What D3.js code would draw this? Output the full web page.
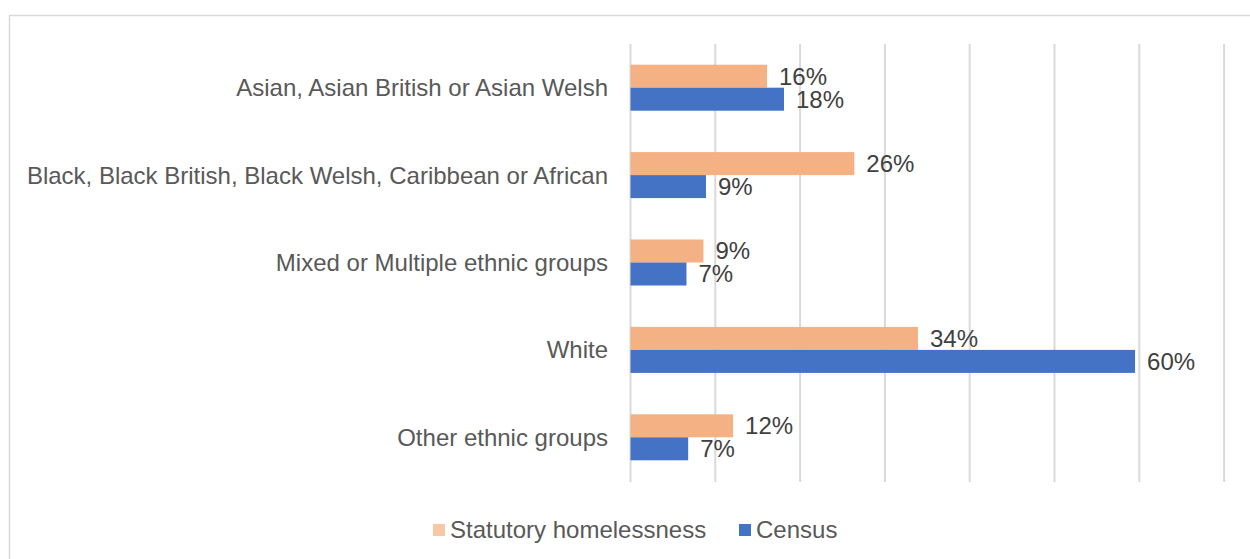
<!DOCTYPE html>
<html><head><meta charset="utf-8">
<script src="https://cdn.jsdelivr.net/npm/d3@7"></script>
<style>body{margin:0;background:#fff}svg{display:block;font-family:"Liberation Sans",Arial,sans-serif}</style>
</head><body><svg id="c" width="1250" height="559"></svg>
<script>
const categories = ["Asian, Asian British or Asian Welsh","Black, Black British, Black Welsh, Caribbean or African","Mixed or Multiple ethnic groups","White","Other ethnic groups"];
const seriesNames = ["Statutory homelessness","Census"];
const homelessness = [16.1, 26.4, 8.6, 33.9, 12.1];
const census = [18.1, 8.9, 6.6, 59.5, 6.8];
const homelessLabels = ["16%","26%","9%","34%","12%"];
const censusLabels = ["18%","9%","7%","60%","7%"];
const gridTicks = [0,10,20,30,40,50,60,70];
const colors = ["#F4B183","#4472C4"];

const svg = d3.select("#c");
svg.append("rect").attr("x",9.5).attr("y",15.5).attr("width",1300).attr("height",600)
  .attr("fill","#fff").attr("stroke","#d9d9d9").attr("stroke-width",1.5);

const x = d3.scaleLinear().domain([0,70]).range([630.5,1224.1]);
const y = d3.scaleBand().domain(categories).range([44,481]).paddingInner(0).paddingOuter(0);
const bandH = y.bandwidth();
const barH = 23;

svg.append("g").selectAll("line").data(gridTicks).join("line")
  .attr("x1",d=>x(d)).attr("x2",d=>x(d)).attr("y1",44).attr("y2",482)
  .attr("stroke","#d9d9d9").attr("stroke-width",2);

const rows = categories.map((c,i)=>({c, vals:[homelessness[i],census[i]], labs:[homelessLabels[i],censusLabels[i]]}));

const g = svg.append("g");
rows.forEach(r=>{
  const cy = y(r.c)+bandH/2;
  r.vals.forEach((v,j)=>{
    const top = cy - barH + j*barH;
    g.append("rect").attr("x",x(0)).attr("y",top).attr("width",x(v)-x(0)).attr("height",barH)
      .attr("fill",colors[j]);
    g.append("text").attr("x",x(v)+12).attr("y",top+barH/2).attr("dy","0.35em")
      .attr("font-size",24).attr("fill","#404040").text(r.labs[j]);
  });
  g.append("text").attr("x",608).attr("y",cy).attr("dy","0.35em").attr("text-anchor","end")
    .attr("font-size",24).attr("fill","#595959").text(r.c);
});

const leg = svg.append("g");
const legX = [433, 739];
seriesNames.forEach((s,i)=>{
  leg.append("rect").attr("x",legX[i]).attr("y",524).attr("width",12).attr("height",12)
    .attr("fill", i===0 ? "#F8C8A6" : colors[1]);
  leg.append("text").attr("x",legX[i]+17).attr("y",530).attr("dy","0.35em")
    .attr("font-size",24).attr("fill","#595959").text(s);
});
</script></body></html>
